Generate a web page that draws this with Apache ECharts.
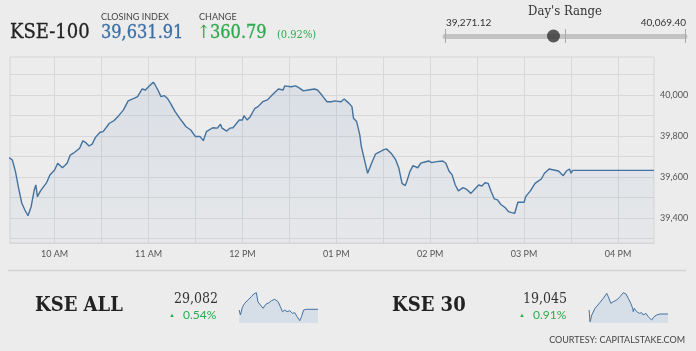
<!DOCTYPE html>
<html>
<head>
<meta charset="utf-8">
<script src="https://cdn.jsdelivr.net/npm/echarts@6/dist/echarts.min.js"></script>
<style>
  html, body { margin: 0; padding: 0; background: #ececec; }
  #chart { width: 696px; height: 351px; }
</style>
</head>
<body>
<div id="chart"></div>
<script>
// KSE-100 intraday
const kse100Times = ['09:31','09:33','09:34','09:35','09:37','09:39','09:41','09:43','09:45','09:47',
    '09:48','09:49','09:51','09:53','09:55','09:57','10:00','10:02','10:03','10:05',
    '10:08','10:10','10:12','10:16','10:18','10:20','10:22','10:24','10:26','10:29',
    '10:31','10:35','10:38','10:41','10:44','10:47','10:51','10:53','10:56','10:58',
    '11:00','11:01','11:03','11:04','11:06','11:08','11:10','11:12','11:14','11:17',
    '11:20','11:24','11:27','11:30','11:33','11:35','11:37','11:41','11:44','11:46',
    '11:47','11:50','11:52','11:54','11:58','12:00','12:01','12:03','12:05','12:08',
    '12:10','12:13','12:16','12:19','12:23','12:26','12:27','12:31','12:34','12:36',
    '12:39','12:42','12:46','12:48','12:51','12:54','12:57','12:59','13:03','13:05',
    '13:08','13:10','13:11','13:13','13:15','13:16','13:18','13:20','13:21','13:23',
    '13:25','13:28','13:30','13:32','13:35','13:38','13:40','13:42','13:44','13:45',
    '13:47','13:49','13:52','13:54','13:56','13:59','14:01','14:04','14:08','14:10',
    '14:12','14:14','14:16','14:18','14:21','14:23','14:26','14:29','14:31','14:33',
    '14:35','14:37','14:39','14:41','14:43','14:45','14:48','14:50','14:52','14:54',
    '14:56','14:57','15:00','15:01','15:04','15:07','15:09','15:11','15:13','15:16',
    '15:19','15:22','15:23','15:25','15:27','15:29','15:30','15:31','16:23'];
const kse100Values = [39694,39683,39691,39626,39546,39473,39439,39411,39455,39537,
    39561,39504,39532,39553,39574,39610,39634,39667,39672,39645,
    39667,39707,39716,39740,39776,39767,39751,39760,39792,39818,
    39821,39862,39875,39899,39927,39971,39984,39992,40029,40024,
    40040,40036,40062,40052,40024,39992,39997,39984,39960,39919,
    39886,39845,39829,39797,39797,39777,39821,39840,39838,39857,
    39838,39824,39838,39840,39878,39878,39899,39878,39894,39935,
    39943,39967,39976,40000,40029,40024,40044,40040,40044,40036,
    40020,40024,40029,40024,39997,39967,39967,39971,39967,39980,
    39960,39943,39886,39870,39805,39748,39683,39618,39626,39675,
    39711,39723,39732,39737,39716,39683,39642,39569,39558,39577,
    39626,39655,39645,39667,39672,39678,39670,39675,39678,39667,
    39629,39610,39561,39532,39548,39541,39520,39545,39561,39556,
    39572,39569,39528,39493,39488,39467,39450,39431,39426,39423,
    39477,39483,39477,39504,39532,39569,39580,39590,39618,39639,
    39634,39629,39623,39606,39629,39639,39618,39632,39632];

const yTicks = [39300,39400,39500,39600,39700,39800,39900,40000,40100];
const yLabels = [39400,39600,39800,40000];
const xTicks = ['10:00','10:30','11:00','11:30','12:00','12:30','13:00','13:30','14:00','14:30','15:00','15:30','16:00'];
const xLabels = ['10:00','11:00','12:00','13:00','14:00','15:00','16:00'];

const closingIndex = 39631.91;
const change = 360.79;
const changePct = 0.92;
const dayLow = 39271.12;
const dayHigh = 40069.40;

// sparklines (relative levels)
const kseAllTimes = ['09:32','09:39','09:49','10:01','10:18','10:36','10:48','11:02','11:10','11:23',
    '11:37','11:51','12:08','12:20','12:37','12:55','13:07','13:18','13:30','13:42',
    '13:56','14:10','14:22','14:34','14:48','14:57','15:08','15:23','16:23'];
const kseAllLevels = [13,8,15.7,19.7,23,26.3,29,30.3,21.3,18,14.7,18.7,20.3,22.3,23.7,21.3,16.3,11.3,13,11.3,
    12.3,9.7,10.3,6.3,2.3,6.3,13,13.7,13.7];
const kse30Times = ['09:32','09:37','09:46','10:03','10:25','10:46','11:04','11:12','11:25','11:38',
    '11:56','12:13','12:30','12:44','12:56','13:09','13:19','13:22','13:27','13:40',
    '13:54','14:06','14:14','14:28','14:40','14:58','15:10','15:24','15:41','16:23'];
const kse30Levels = [13,1.3,8,14.7,19.7,24.7,29.7,26.3,19.7,21.3,23,26.3,30.3,29,24.7,19.7,14.7,11.3,14.7,11.3,
    9.7,10.3,8,9.7,6.3,3,6.3,8,9,9];

const kseAllValue = 29082, kseAllPct = 0.54;
const kse30Value = 19045, kse30Pct = 0.91;

const toMin = (s) => { const p = s.split(':'); return +p[0] * 60 + +p[1]; };
const pairs = (ts, vs) => ts.map((t, i) => [toMin(t), vs[i]]);
const fmt = (v, d) => v.toLocaleString('en-US', {minimumFractionDigits: d, maximumFractionDigits: d});
const hourLabel = (m) => {
    let h = Math.floor(m / 60);
    const ap = h >= 12 ? 'PM' : 'AM';
    if (h > 12) h -= 12;
    return (h < 10 ? '0' + h : '' + h) + ' ' + ap;
};

const xMin = 571.5, xMax = 983;
const SERIF = '"DejaVu Serif Condensed", "DejaVu Serif", serif';
const SANS = 'Lato, "Open Sans", sans-serif';
const GREEN = '#2eaa4e';
const LINE = '#44729f';

function sparkGrid(left) {
    return {left: left, top: 292, width: 79, height: 31, show: false};
}

const option = {
    backgroundColor: '#ececec',
    animation: false,
    grid: [
        {left: 10, right: 42, top: 57, bottom: 108, show: true, borderColor: '#d6d6d6', borderWidth: 1},
        {left: 445, width: 240, top: 29, height: 14},
        sparkGrid(239),
        sparkGrid(589),
    ],
    xAxis: [
        {
            type: 'value', gridIndex: 0, min: xMin, max: xMax,
            axisLine: {show: true, lineStyle: {color: '#d6d6d6'}},
            axisTick: {show: false, customValues: xTicks.map(toMin)},
            axisLabel: {
                customValues: xLabels.map(toMin), formatter: hourLabel,
                color: '#555', fontSize: 9, fontFamily: SANS, margin: 7,
            },
            splitLine: {show: true, lineStyle: {color: '#d8d8d8', width: 1}},
        },
        {
            type: 'value', gridIndex: 1, min: dayLow, max: dayHigh,
            axisLine: {show: true, onZero: true, lineStyle: {color: '#c3c3c3', width: 5}},
            axisTick: {show: false}, axisLabel: {show: false}, splitLine: {show: false},
        },
        {type: 'value', gridIndex: 2, min: xMin, max: xMax, show: false},
        {type: 'value', gridIndex: 3, min: xMin, max: xMax, show: false},
    ],
    yAxis: [
        {
            type: 'value', gridIndex: 0, position: 'right', min: 39278, max: 40185,
            axisLine: {show: false},
            axisTick: {show: false, customValues: yTicks},
            axisLabel: {
                customValues: yLabels, formatter: (v) => fmt(v, 0),
                color: '#555', fontSize: 9, fontFamily: SANS, margin: 6,
            },
            splitLine: {show: true, lineStyle: {color: '#d8d8d8', width: 1}},
        },
        {type: 'value', gridIndex: 1, min: -1, max: 1, show: false},
        {type: 'value', gridIndex: 2, min: 0, max: 31, show: false},
        {type: 'value', gridIndex: 3, min: 0, max: 31, show: false},
    ],
    series: [
        {
            type: 'line', xAxisIndex: 0, yAxisIndex: 0,
            data: pairs(kse100Times, kse100Values),
            showSymbol: false, symbol: 'none',
            lineStyle: {color: LINE, width: 1.4},
            areaStyle: {
                color: new echarts.graphic.LinearGradient(0, 0, 0, 1, [
                    {offset: 0, color: 'rgba(110,145,190,0.2)'},
                    {offset: 1, color: 'rgba(110,145,190,0.07)'},
                ]),
            },
        },
        {
            type: 'scatter', xAxisIndex: 1, yAxisIndex: 1,
            data: [[closingIndex, 0]], symbolSize: 13,
            itemStyle: {color: '#333'}, z: 5,
            markLine: {
                silent: true, symbol: 'none', label: {show: false},
                lineStyle: {color: '#aaa', width: 1, type: 'solid'},
                data: [{xAxis: dayLow}, {xAxis: (dayLow + dayHigh) / 2}, {xAxis: dayHigh}],
            },
        },
        {
            type: 'line', xAxisIndex: 2, yAxisIndex: 2,
            data: pairs(kseAllTimes, kseAllLevels), symbol: 'none',
            lineStyle: {color: LINE, width: 1},
            areaStyle: {color: '#d6dee8', opacity: 1},
        },
        {
            type: 'line', xAxisIndex: 3, yAxisIndex: 3,
            data: pairs(kse30Times, kse30Levels), symbol: 'none',
            lineStyle: {color: LINE, width: 1},
            areaStyle: {color: '#d6dee8', opacity: 1},
        },
    ],
    graphic: [
        // header
        {type: 'text', x: 10, y: 33, style: {text: 'KSE-100', font: '20px ' + SERIF, fill: '#222', stroke: '#222', lineWidth: 0.3, verticalAlign: 'middle'}},
        {type: 'text', x: 101, y: 17, style: {text: 'CLOSING INDEX', font: '9px ' + SANS, fill: '#444', verticalAlign: 'middle'}},
        {type: 'text', x: 101, y: 33, style: {text: fmt(closingIndex, 2), font: '18px ' + SERIF, fill: '#3a6ea5', stroke: '#3a6ea5', lineWidth: 0.3, verticalAlign: 'middle'}},
        {type: 'text', x: 199, y: 17, style: {text: 'CHANGE', font: '9px ' + SANS, fill: '#444', verticalAlign: 'middle'}},
        {type: 'text', x: 197, y: 33, style: {text: '\u2191', font: '18px ' + SERIF, fill: GREEN, verticalAlign: 'middle'}},
        {type: 'text', x: 210, y: 33, style: {text: fmt(change, 2), font: '18px ' + SERIF, fill: GREEN, stroke: GREEN, lineWidth: 0.3, verticalAlign: 'middle'}},
        {type: 'text', x: 277, y: 35, style: {text: '(' + changePct.toFixed(2) + '%)', font: '11px ' + SERIF, fill: GREEN, verticalAlign: 'middle'}},
        // day's range
        {type: 'text', x: 565, y: 12, style: {text: "Day's Range", font: '13px ' + SERIF, fill: '#333', align: 'center', verticalAlign: 'middle'}},
        {type: 'text', x: 446, y: 23, style: {text: fmt(dayLow, 2), font: '10px ' + SANS, fill: '#333', verticalAlign: 'middle'}},
        {type: 'text', x: 686, y: 23, style: {text: fmt(dayHigh, 2), font: '10px ' + SANS, fill: '#333', align: 'right', verticalAlign: 'middle'}},
        // separator
        {type: 'line', shape: {x1: 8, y1: 270.5, x2: 686, y2: 270.5}, style: {stroke: '#d2d2d2', lineWidth: 1.5}},
        // bottom tiles
        {type: 'text', x: 35, y: 306, style: {text: 'KSE ALL', font: 'bold 20px ' + SERIF, fill: '#222', verticalAlign: 'middle'}},
        {type: 'text', x: 218, y: 299, style: {text: fmt(kseAllValue, 0), font: '14px ' + SERIF, fill: '#333', align: 'right', verticalAlign: 'middle'}},
        {type: 'text', x: 172, y: 315, style: {text: '\u25B2', font: '6px ' + SANS, fill: GREEN, align: 'center', verticalAlign: 'middle'}},
        {type: 'text', x: 183, y: 315, style: {text: kseAllPct.toFixed(2) + '%', font: '12px ' + SANS, fill: GREEN, verticalAlign: 'middle'}},
        {type: 'text', x: 392, y: 306, style: {text: 'KSE 30', font: 'bold 20px ' + SERIF, fill: '#222', verticalAlign: 'middle'}},
        {type: 'text', x: 567, y: 299, style: {text: fmt(kse30Value, 0), font: '14px ' + SERIF, fill: '#333', align: 'right', verticalAlign: 'middle'}},
        {type: 'text', x: 522, y: 315, style: {text: '\u25B2', font: '6px ' + SANS, fill: GREEN, align: 'center', verticalAlign: 'middle'}},
        {type: 'text', x: 533, y: 315, style: {text: kse30Pct.toFixed(2) + '%', font: '12px ' + SANS, fill: GREEN, verticalAlign: 'middle'}},
        {type: 'text', x: 685, y: 340, style: {text: 'COURTESY: CAPITALSTAKE.COM', font: '9px ' + SANS, fill: '#444', align: 'right', verticalAlign: 'middle'}},
    ],
};

const chart = echarts.init(document.getElementById('chart'));
chart.setOption(option);
</script>
</body>
</html>
